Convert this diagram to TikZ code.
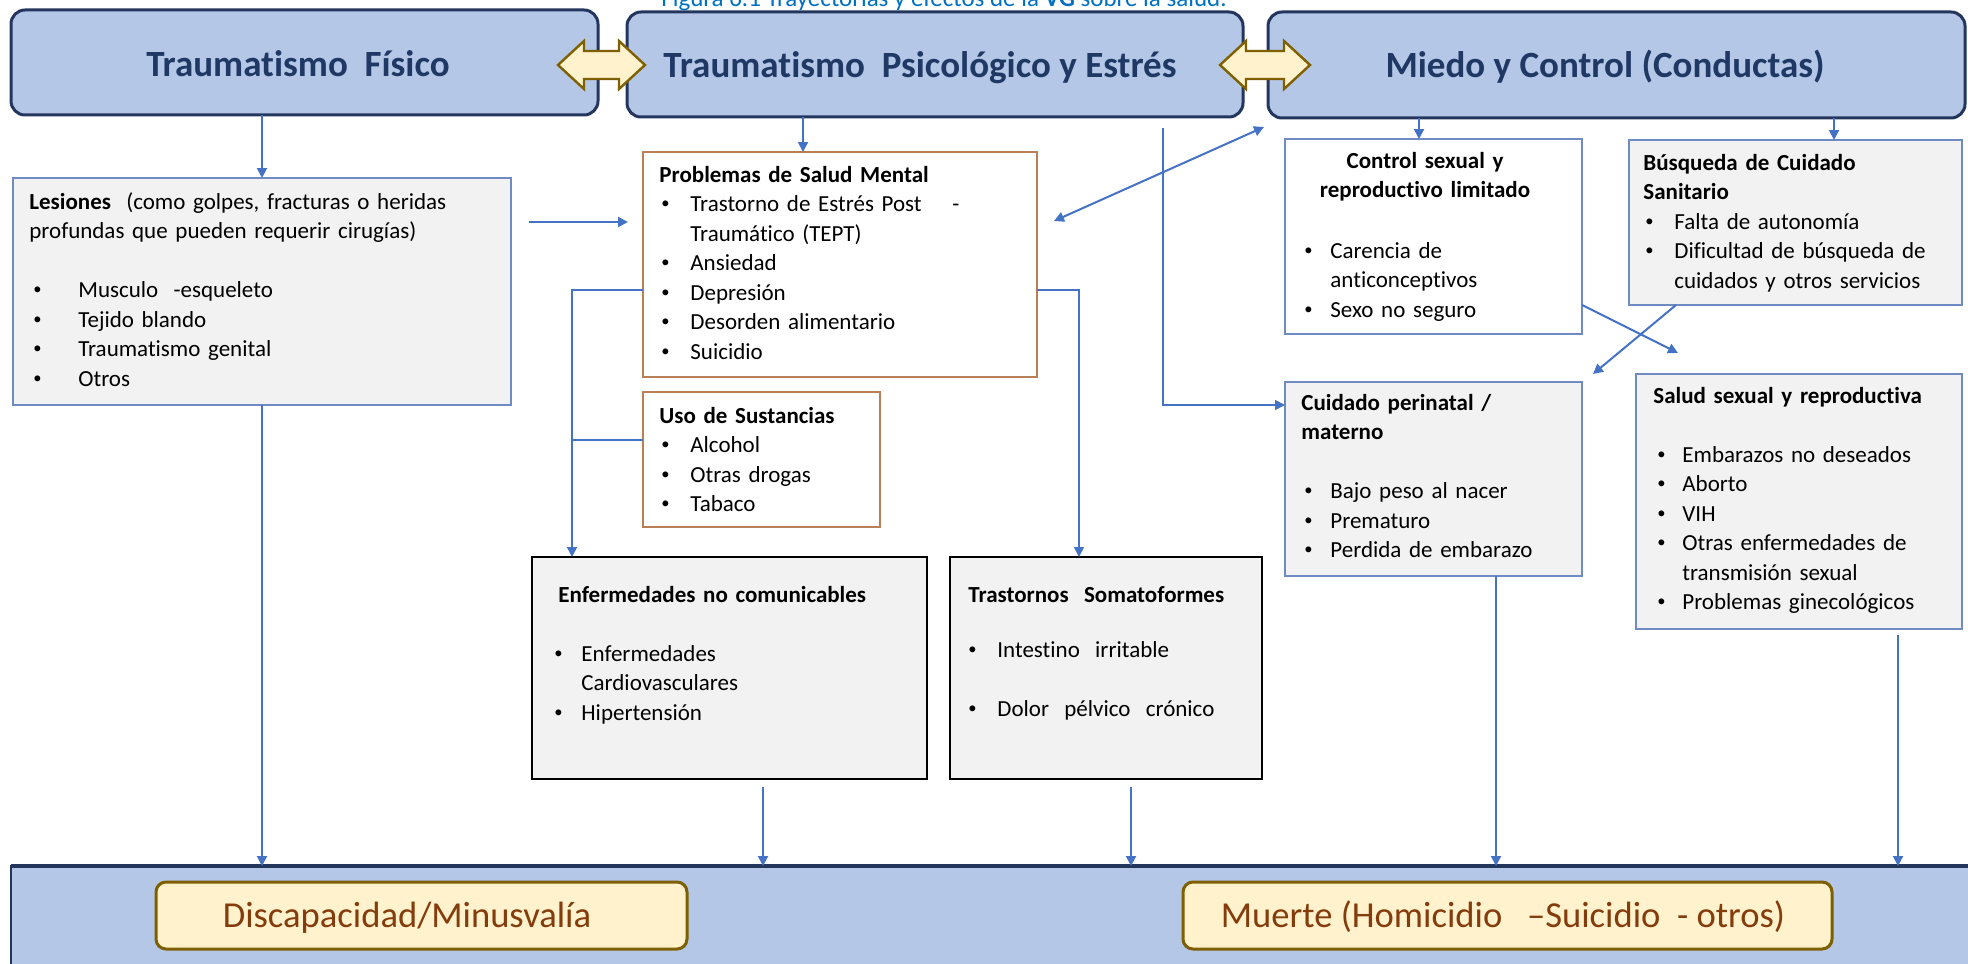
\documentclass[tikz,border=0pt]{standalone}
\usepackage{fontspec}
\usepackage{graphicx}
\setmainfont{Carlito}[Ligatures=CommonOff]
\usetikzlibrary{arrows.meta}
\definecolor{topfill}{RGB}{180,199,231}
\definecolor{navy}{RGB}{36,54,94}
\definecolor{titlec}{RGB}{31,56,100}
\definecolor{arrblue}{RGB}{68,114,196}
\definecolor{lgray}{RGB}{242,242,242}
\definecolor{bbord}{RGB}{110,140,195}
\definecolor{brn}{RGB}{185,128,88}
\definecolor{cream}{RGB}{255,242,204}
\definecolor{gold}{RGB}{127,96,0}
\definecolor{rust}{RGB}{132,60,12}
\definecolor{figblue}{RGB}{0,112,192}
\newcommand\mybul{\raisebox{0.12em}{\scalebox{0.72}{\textbullet}}}
\newcommand\myitem[3][0pt]{\hspace*{#1}\makebox[\dimexpr#2-#1\relax][l]{\mybul}#3}
\begin{document}
\begin{tikzpicture}[x=0.5pt,y=-0.5pt,
  box/.style={anchor=north west, inner sep=0pt, outer sep=0pt},
  topbox/.style={box, draw=navy, line width=1.5pt, fill=topfill, rounded corners=7pt},
  toptext/.style={font=\fontsize{18.5}{22}\selectfont\bfseries, text=titlec, anchor=base, inner sep=0pt},
  graybox/.style={box, draw=bbord, line width=0.8pt, fill=lgray},
  whitebox/.style={box, draw=bbord, line width=0.8pt, fill=white},
  brownbox/.style={box, draw=brn, line width=0.8pt, fill=white},
  blackbox/.style={box, draw=black, line width=1.4pt, fill=lgray},
  body/.style={font=\fontsize{11.5}{14.75}\selectfont, anchor=base west, inner sep=0pt, align=left, text width=260pt},
  arr/.style={draw=arrblue, line width=1pt, -{Triangle[length=5pt,width=5pt]}},
  thinarr/.style={draw=arrblue, line width=0.75pt, -{Triangle[length=5pt,width=5pt]}},
  thinl/.style={draw=arrblue, line width=0.75pt},
  dbl/.style={draw=gold, line width=1.2pt, fill=cream, line join=miter},
  endbox/.style={box, draw=gold, line width=1.5pt, fill=cream, rounded corners=5pt},
  endtext/.style={font=\fontsize{18.3}{21}\selectfont, text=rust, anchor=base, inner sep=0pt}
]
\useasboundingbox (0,0) rectangle (1968,963);

% caption (cut off at the top)
\node[font=\fontsize{12.5}{15}\selectfont, text=figblue, anchor=base, inner sep=0pt] (cap) at (944,7) {Figura 6.1 Trayectorias y efectos de la \textbf{VG} sobre la salud.};

% top boxes
\node[topbox, minimum width=293.5pt, minimum height=52.5pt] (t1) at (11,10) {};
\node[topbox, minimum width=308pt, minimum height=52.5pt] (t2) at (627,12) {};
\node[topbox, minimum width=348.5pt, minimum height=53pt] (t3) at (1268,12) {};
\node[toptext] (t1t) at (298,76) {Traumatismo\ \ Físico};
\node[toptext] (t2t) at (920,78) {Traumatismo\ \ Psicológico y Estrés};
\node[toptext] (t3t) at (1605,78) {Miedo y Control (Conductas)};

% double arrows
\draw[dbl] (558,65) -- (584,41) -- (584,51) -- (619,51) -- (619,41) -- (645,65) -- (619,89) -- (619,79) -- (584,79) -- (584,89) -- cycle;
\draw[dbl] (1220,65) -- (1246,41) -- (1246,51) -- (1284,51) -- (1284,41) -- (1310,65) -- (1284,89) -- (1284,79) -- (1246,79) -- (1246,89) -- cycle;

% Lesiones
\node[graybox, minimum width=249pt, minimum height=113.5pt] (les) at (13,178) {};
\node[body] (lest) at (29,209) {\textbf{Lesiones}\ \ (como golpes, fracturas o heridas\\
profundas que pueden requerir cirugías)\\[14.75pt]
\myitem[2pt]{24.5pt}{Musculo\ \ -esqueleto}\\
\myitem[2pt]{24.5pt}{Tejido blando}\\
\myitem[2pt]{24.5pt}{Traumatismo genital}\\
\myitem[2pt]{24.5pt}{Otros}};

% Problemas de salud mental
\node[brownbox, minimum width=197pt, minimum height=112.5pt] (prob) at (643,152) {};
\node[body] (probt) at (659,182) {\textbf{Problemas de Salud Mental}\\
\myitem[1pt]{15.5pt}{Trastorno de Estrés Post\ \ \ \ -}\\
\hspace*{15.5pt}Traumático (TEPT)\\
\myitem[1pt]{15.5pt}{Ansiedad}\\
\myitem[1pt]{15.5pt}{Depresión}\\
\myitem[1pt]{15.5pt}{Desorden alimentario}\\
\myitem[1pt]{15.5pt}{Suicidio}};

% Uso de sustancias
\node[brownbox, minimum width=118.5pt, minimum height=67.5pt] (uso) at (643,392) {};
\node[body] (usot) at (659,423) {\textbf{Uso de Sustancias}\\
\myitem[1pt]{15.5pt}{Alcohol}\\
\myitem[1pt]{15.5pt}{Otras drogas}\\
\myitem[1pt]{15.5pt}{Tabaco}};

% Enfermedades no comunicables
\node[blackbox, minimum width=197.5pt, minimum height=111pt] (enf) at (532,557) {};
\node[body] (enft) at (554,602) {\hspace*{2pt}\textbf{Enfermedades no comunicables}\\[14.75pt]
\myitem{13.5pt}{Enfermedades}\\
\hspace*{13.5pt}Cardiovasculares\\
\myitem{13.5pt}{Hipertensión}};

% Trastornos somatoformes
\node[blackbox, minimum width=156pt, minimum height=111pt] (tras) at (950,557) {};
\node[body] (trast) at (968,602) {\textbf{Trastornos\ \ Somatoformes}\\[13pt]
\myitem{14.5pt}{Intestino\ \ irritable}\\[14.75pt]
\myitem{14.5pt}{Dolor\ \ pélvico\ \ crónico}};

% Control sexual
\node[whitebox, minimum width=148.5pt, minimum height=97.5pt] (ctrl) at (1285,139) {};
\node[font=\fontsize{11.5}{14.75}\selectfont\bfseries, anchor=base, inner sep=0pt, align=center, text width=148pt] (ctrlt) at (1425,168) {Control sexual y\\ reproductivo limitado};
\node[body] (ctrlb) at (1304,258) {\myitem{13pt}{Carencia de}\\
\hspace*{13pt}anticonceptivos\\
\myitem{13pt}{Sexo no seguro}};

% Busqueda de cuidado
\node[graybox, minimum width=166.5pt, minimum height=82.5pt] (busq) at (1629,140) {};
\node[body] (busqt) at (1643,170) {\textbf{Búsqueda de Cuidado}\\
\textbf{Sanitario}\\
\myitem[1pt]{15.5pt}{Falta de autonomía}\\
\myitem[1pt]{15.5pt}{Dificultad de búsqueda de}\\
\hspace*{15.5pt}cuidados y otros servicios};

% Cuidado perinatal
\node[graybox, minimum width=148.5pt, minimum height=97pt] (cuid) at (1285,382) {};
\node[body] (cuidt) at (1301,410) {\textbf{Cuidado perinatal /}\\
\textbf{materno}\\[14.75pt]
\myitem[1.5pt]{14.5pt}{Bajo peso al nacer}\\
\myitem[1.5pt]{14.5pt}{Prematuro}\\
\myitem[1.5pt]{14.5pt}{Perdida de embarazo}};

% Salud sexual
\node[graybox, minimum width=163pt, minimum height=127.5pt] (salud) at (1636,374) {};
\node[body] (saludt) at (1653,403) {\textbf{Salud sexual y reproductiva}\\[14.75pt]
\myitem[2pt]{14.5pt}{Embarazos no deseados}\\
\myitem[2pt]{14.5pt}{Aborto}\\
\myitem[2pt]{14.5pt}{VIH}\\
\myitem[2pt]{14.5pt}{Otras enfermedades de}\\
\hspace*{14.5pt}transmisión sexual\\
\myitem[2pt]{14.5pt}{Problemas ginecológicos}};

% bottom band
\node[box, fill=topfill, draw=navy, line width=0.75pt, minimum width=990pt, minimum height=60pt] (band) at (11,866) {};
\draw[navy, line width=1.6pt] (band.north west) -- (band.north east);
\node[endbox, minimum width=265.5pt, minimum height=33.5pt] (disc) at (156,882) {};
\node[endbox, minimum width=324.5pt, minimum height=33.5pt] (muer) at (1183,882) {};
\node[endtext] (disct) at (407,927) {Discapacidad/Minusvalía};
\node[endtext] (muert) at (1503,927) {Muerte (Homicidio\ \ \ –Suicidio\ \ - otros)};

% connectors from top boxes
\draw[arr] (t1.south -| les.north) -- (les.north);
\draw[arr] (t2.south -| 803,0) -- (prob.north -| 803,0);
\draw[arr] (t3.south -| 1419,0) -- (ctrl.north -| 1419,0);
\draw[arr] (t3.south -| 1834,0) -- (busq.north -| 1834,0);

% lesiones -> problemas
\coordinate (la1) at (529,222);
\coordinate (la2) at (628,222);
\draw[arr] (la1) -- (la2);

% diagonal double arrow
\coordinate (d1) at (1054,221);
\coordinate (d2) at (1264,127);
\draw[arr, {Triangle[length=5pt,width=5pt]}-{Triangle[length=5pt,width=5pt]}] (d1) -- (d2);

% left and right connectors from mental health
\coordinate (jl) at (572,290);
\coordinate (jr) at (1079,290);
\draw[thinarr] (prob.west |- jl) -- (jl) -- (jl |- enf.north);
\draw[thinl] (uso.west |- 0,440) -- (jl |- 0,440);
\draw[thinarr] (prob.east |- jr) -- (jr) -- (jr |- tras.north);

% vertical line to cuidado perinatal
\coordinate (vs) at (1163,128);
\draw[thinarr] (vs) -- (vs |- 0,405) -- (cuid.west |- 0,405);

% crossing arrows
\coordinate (x1) at (1678,353);
\coordinate (x2) at (1593,374);
\draw[arr] (ctrl.east |- 0,305) -- (x1);
\draw[arr] (busq.south -| 1676,0) -- (x2);

% arrows to bottom band
\coordinate (e1) at (763,787);
\coordinate (e2) at (1131,787);
\coordinate (e3) at (1898,635);
\draw[arr] (les.south) -- (band.north -| les.south);
\draw[arr] (e1) -- (band.north -| e1);
\draw[arr] (e2) -- (band.north -| e2);
\draw[arr] (cuid.south -| 1496,0) -- (band.north -| 1496,0);
\draw[arr] (e3) -- (band.north -| e3);
\end{tikzpicture}
\end{document}
